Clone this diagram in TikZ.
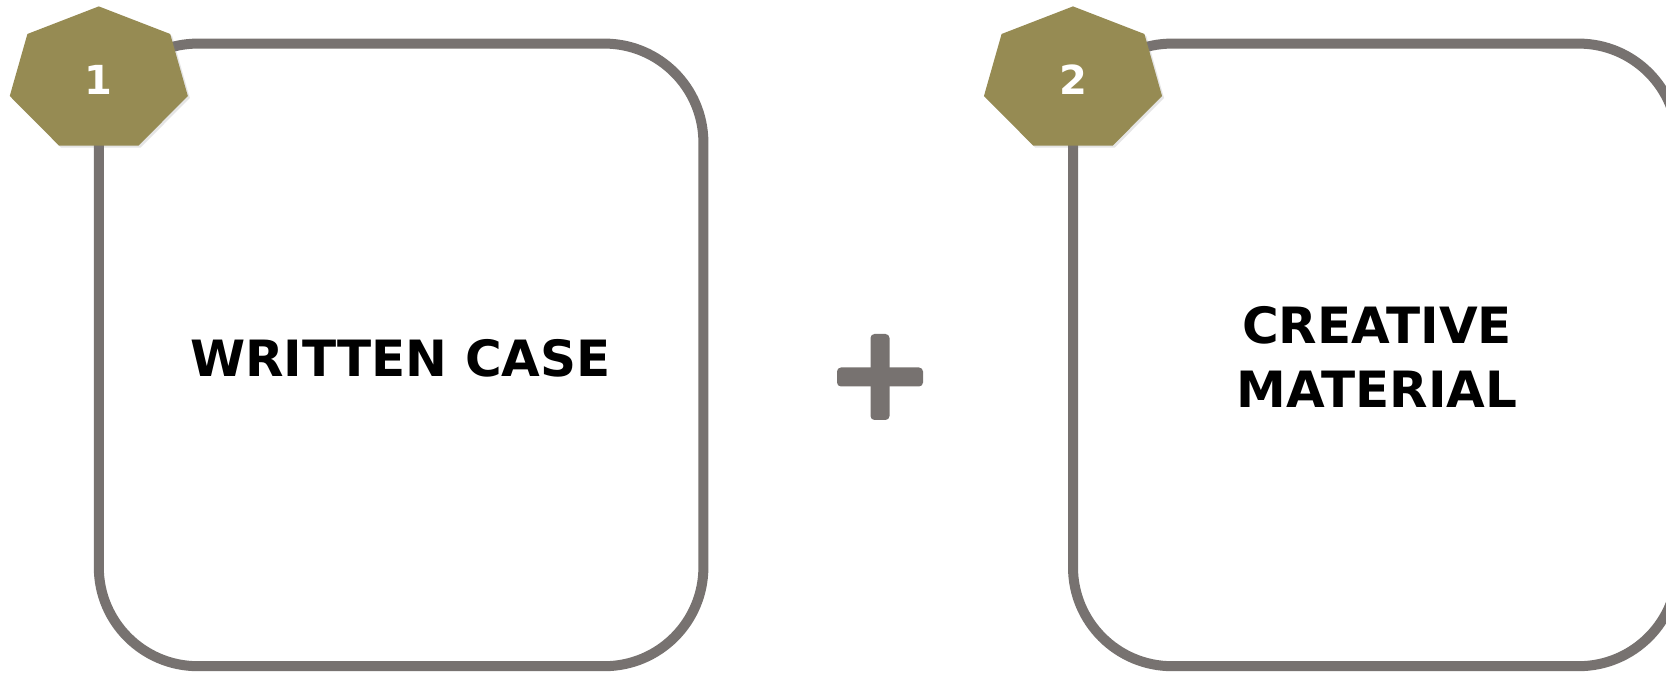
\documentclass[tikz,border=0pt]{standalone}
\usepackage{fontspec}
\setmainfont{DejaVu Sans}
\usetikzlibrary{shapes.geometric, shadows}

\definecolor{frame}{RGB}{119,114,112}
\definecolor{olive}{RGB}{150,139,83}

\begin{document}
\begin{tikzpicture}[
      x=0.5pt, y=0.5pt,
      card/.style={draw=frame, line width=5pt, rounded corners=49.5pt,
        minimum width=302.3pt, minimum height=311.3pt, inner sep=0pt, fill=white},
      hept/.style={regular polygon, regular polygon sides=7, fill=olive,
        minimum size=73.3pt, inner sep=0pt, xscale=1.246,
        drop shadow={opacity=.2, shadow xshift=1pt, shadow yshift=-1pt}},
      num/.style={text=white, font=\fontsize{20}{24}\selectfont\bfseries},
      title/.style={align=center, font=\fontsize{25}{32}\selectfont\bfseries},
    ]
    \fill[white] (0,0) rectangle (1666,673);
    \useasboundingbox (0,0) rectangle (1666,673);
    % cards
    \node[card] (c1) at (401.1,318.1) {};
    \node[card] (c2) at (1375.3,318.1) {};
    \node[title] (t1) at (400.5,315) {WRITTEN CASE};
    \node[title] (t2) at (1377,316) {CREATIVE\\MATERIAL};
    % badges
    \node[hept] (h1) at (98.8,593.3) {};
    \node[hept] (h2) at (1073,593.3) {};
    \node[num] (n1) at (h1) {1};
    \node[num] (n2) at (h2) {2};
    % plus sign
    \fill[frame, rounded corners=2pt] (837,286.5) rectangle (923,305.5);
    \fill[frame, rounded corners=2pt] (870.5,253) rectangle (889.5,339);
\end{tikzpicture}
\end{document}
